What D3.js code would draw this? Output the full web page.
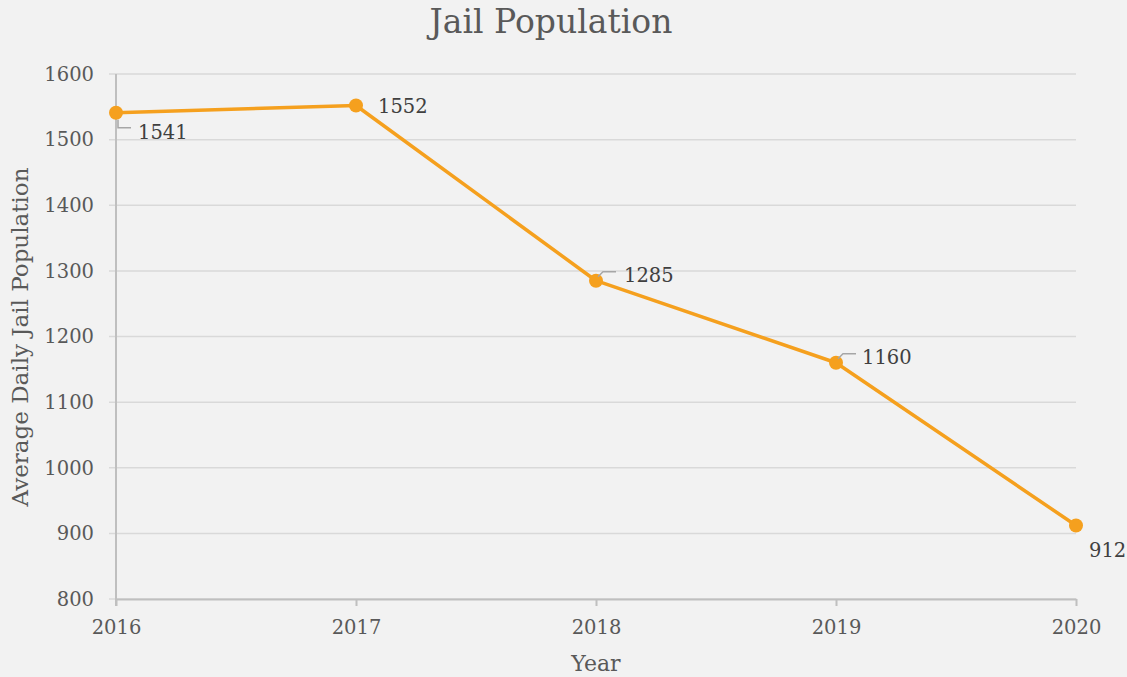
<!DOCTYPE html>
<html><head><meta charset="utf-8">
<script src="https://cdn.jsdelivr.net/npm/d3@7"></script>
<style>
html,body{margin:0;padding:0;background:#f2f2f2;}
svg{display:block;font-family:"DejaVu Serif",serif;}
</style></head>
<body>
<svg id="chart" width="1127" height="677"></svg>
<script>
const years = ["2016","2017","2018","2019","2020"];
const population = [1541, 1552, 1285, 1160, 912];
const yTicks = [800, 900, 1000, 1100, 1200, 1300, 1400, 1500, 1600];

const svg = d3.select("#chart");
const W = 1127, H = 677;
const m = {left:116, right:51, top:74, bottom:78};
const x = d3.scalePoint().domain(years).range([m.left, W - m.right]);
const y = d3.scaleLinear().domain([800, 1600]).range([H - m.bottom, m.top]);

svg.append("rect").attr("width", W).attr("height", H).attr("fill", "#f2f2f2");

// gridlines
svg.append("g").selectAll("line").data(yTicks).join("line")
  .attr("x1", m.left - 7).attr("x2", W - m.right)
  .attr("y1", d => y(d)).attr("y2", d => y(d))
  .attr("stroke", "#d9d9d9").attr("stroke-width", 1.5);

// y axis
const yAxis = svg.append("g").attr("transform", `translate(${m.left},0)`)
  .call(d3.axisLeft(y).tickValues(yTicks).tickFormat(d3.format("d")).tickSize(0).tickPadding(22));
yAxis.select(".domain").remove();
yAxis.selectAll("text").attr("fill", "#595959").attr("font-size", 19.5).attr("font-family", "DejaVu Serif");
svg.append("line").attr("x1", m.left).attr("x2", m.left)
  .attr("y1", m.top).attr("y2", y(800) + 7)
  .attr("stroke", "#bfbfbf").attr("stroke-width", 2);

// x axis
const xAxis = svg.append("g").attr("transform", `translate(0,${y(800)})`)
  .call(d3.axisBottom(x).tickSize(7).tickPadding(14).tickSizeOuter(0));
xAxis.select(".domain").attr("stroke", "#bfbfbf").attr("stroke-width", 2);
xAxis.selectAll(".tick line").attr("stroke", "#bfbfbf").attr("stroke-width", 2);
xAxis.selectAll("text").attr("fill", "#595959").attr("font-size", 19.5).attr("font-family", "DejaVu Serif");

// line
const data = years.map((d, i) => ({year: d, v: population[i]}));
svg.append("path").datum(data)
  .attr("fill", "none").attr("stroke", "#f5a01e").attr("stroke-width", 3.5)
  .attr("stroke-linejoin", "round")
  .attr("d", d3.line().x(d => x(d.year)).y(d => y(d.v)));
svg.append("g").selectAll("circle").data(data).join("circle")
  .attr("cx", d => x(d.year)).attr("cy", d => y(d.v)).attr("r", 7)
  .attr("fill", "#f5a01e");

// data labels
const lab = svg.append("g").attr("font-size", 19.5).attr("fill", "#404040");
const offs = [
  {dx: 22, dy: 26, leader: (px, py) => `M${px+2},${py+7}L${px+2},${py+15}L${px+15},${py+15}`},
  {dx: 22, dy: 7, leader: null},
  {dx: 28, dy: 1, leader: (px, py) => `M${px+2},${py-4}L${px+7},${py-9}L${px+20},${py-9}`},
  {dx: 26, dy: 1, leader: (px, py) => `M${px+2},${py-4}L${px+7},${py-9}L${px+20},${py-9}`},
  {dx: 13, dy: 31, leader: null}
];
data.forEach((d, i) => {
  const px = x(d.year), py = y(d.v), o = offs[i];
  if (o.leader) svg.append("path").attr("d", o.leader(px, py))
    .attr("fill", "none").attr("stroke", "#a6a6a6").attr("stroke-width", 1.5);
  lab.append("text").attr("x", px + o.dx).attr("y", py + o.dy).text(d.v);
});

// titles
svg.append("text").attr("x", 551).attr("y", 33).attr("text-anchor", "middle")
  .attr("font-size", 33).attr("fill", "#595959").text("Jail Population");
svg.append("text").attr("x", 596).attr("y", 671).attr("text-anchor", "middle")
  .attr("font-size", 22).attr("fill", "#595959").text("Year");
svg.append("text").attr("transform", "translate(28,337) rotate(-90)").attr("text-anchor", "middle")
  .attr("font-size", 23).attr("fill", "#595959").text("Average Daily Jail Population");
</script>
</body></html>
